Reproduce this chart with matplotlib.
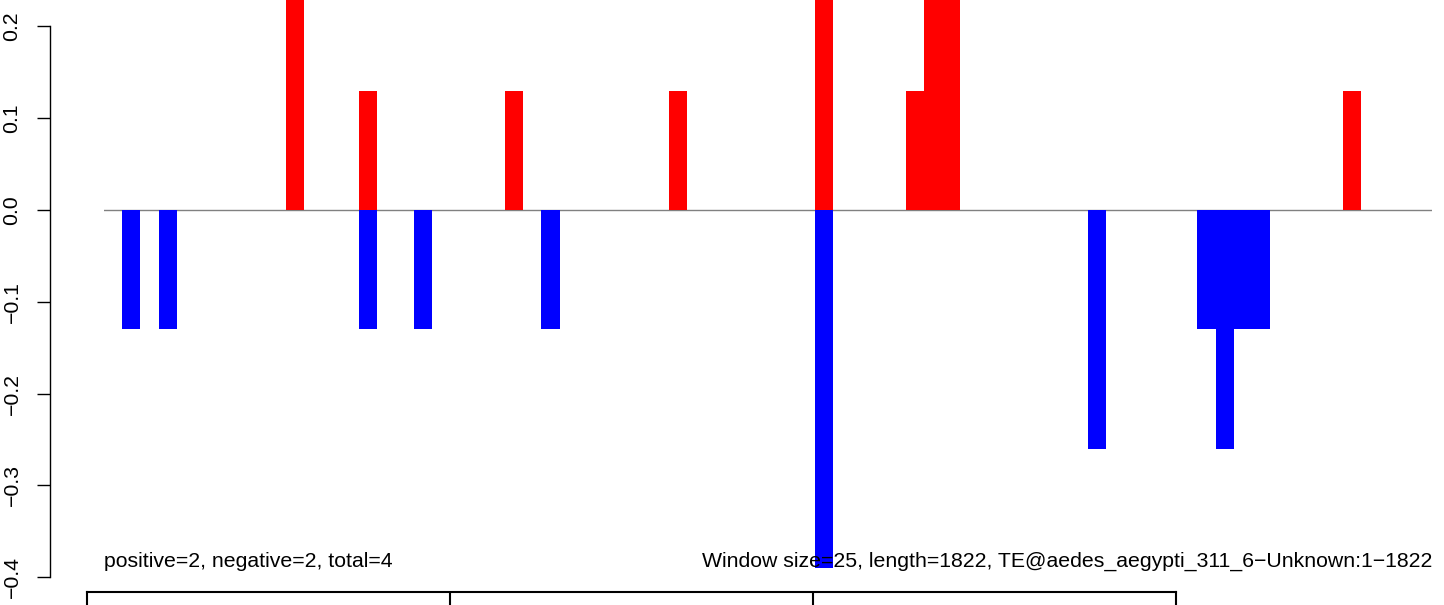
import numpy as np
import matplotlib
matplotlib.use('Agg')
import matplotlib.pyplot as plt

plt.rcParams['font.family'] = ['Liberation Sans', 'DejaVu Sans']

# donnees
window = 25
length = 1822
pos_bins = [10, 14, 22, 31, 39, 44, 45, 46, 68]
pos_vals = [0.26, 0.13, 0.13, 0.13, 0.26, 0.13, 0.26, 0.26, 0.13]
neg_bins = [1, 3, 14, 17, 24, 39, 54, 60, 61, 62, 63]
neg_vals = [-0.13, -0.13, -0.13, -0.13, -0.13, -0.39, -0.26, -0.13, -0.26, -0.13, -0.13]
yticks = [-0.4, -0.3, -0.2, -0.1, 0.0, 0.1, 0.2]
ytick_labels = ['\u22120.4', '\u22120.3', '\u22120.2', '\u22120.1', '0.0', '0.1', '0.2']
n_boxes = 3

txt_left = 'positive=2, negative=2, total=4'
txt_right = ('Window size=25, length=1822, TE@aedes_aegypti_311_6'
             '\u2212Unknown:1\u22121822')

W, H = 1444, 605
fig = plt.figure(figsize=(W / 100, H / 100), dpi=100)

# zone du trace : x=0..length sur les pixels 104..1432
ax = fig.add_axes([104 / W, 0, 1328 / W, 1])
ax.set_xlim(0, length)
ax.set_ylim(-0.4303, 0.2288)

ax.plot([0, length], [0, 0], color='#808080', lw=1, zorder=1)
ax.bar(np.array(pos_bins) * window, pos_vals, width=window, align='edge',
       color='#FF0000', linewidth=0, antialiased=False, zorder=2)
ax.bar(np.array(neg_bins) * window, neg_vals, width=window, align='edge',
       color='#0000FF', linewidth=0, antialiased=False, zorder=2)

# axe y facon R
for s in ['top', 'right', 'bottom']:
    ax.spines[s].set_visible(False)
ax.spines['left'].set_position(('outward', 54 * 0.72))
ax.spines['left'].set_bounds(-0.4, 0.2)
ax.spines['left'].set_linewidth(1)
ax.set_xticks([])
ax.set_yticks(yticks)
ax.set_yticklabels(ytick_labels)
ax.tick_params(axis='y', length=9.5, width=1, pad=11, labelsize=15.3,
               labelrotation=90)
for lab in ax.get_yticklabels():
    lab.set_va('center')

ax.text(0, -0.389, txt_left, fontsize=15.3, ha='left', va='baseline', zorder=3)
ax.text(length, -0.389, txt_right, fontsize=15.3, ha='right', va='baseline',
        zorder=3)

# piste du dessous (haut des boites)
ax2 = fig.add_axes([87 / W, -0.05, 1089 / W, 13 / H + 0.05])
ax2.set_xlim(0, n_boxes)
ax2.set_ylim(0, 1)
for i in range(1, n_boxes):
    ax2.axvline(i, color='black', lw=1.5)
for s in ax2.spines.values():
    s.set_linewidth(1.5)
ax2.set_xticks([])
ax2.set_yticks([])
ax2.patch.set_alpha(0)

fig.savefig('out.png', dpi=100)
